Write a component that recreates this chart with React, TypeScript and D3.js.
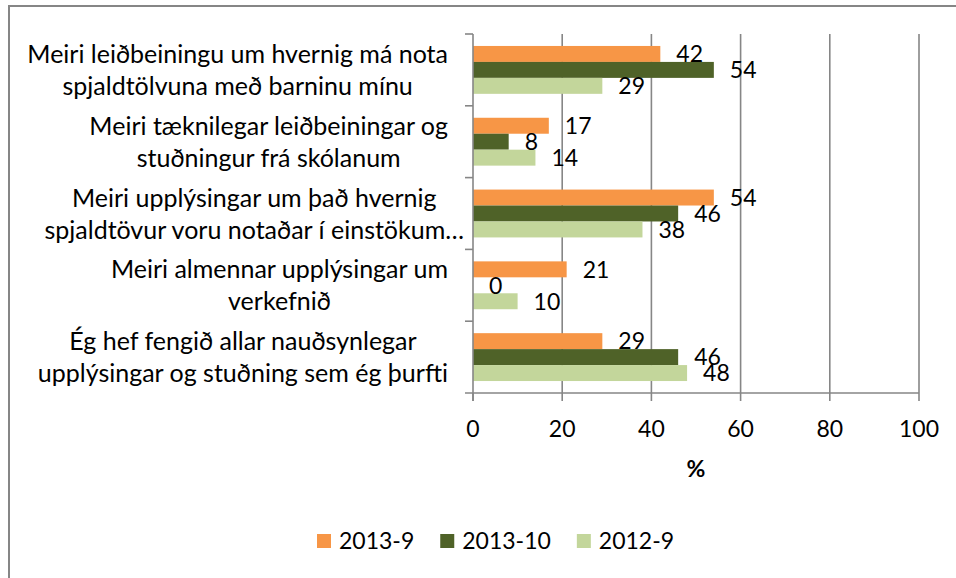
import { useEffect, useRef } from "react";
import * as d3 from "d3";

// wrapped category labels, top to bottom as shown
const categories: string[][] = [
  ["Meiri leiðbeiningu um hvernig má nota", "spjaldtölvuna með barninu mínu"],
  ["Meiri tæknilegar leiðbeiningar og", "stuðningur frá skólanum"],
  ["Meiri upplýsingar um það hvernig", "spjaldtövur voru notaðar í einstökum…"],
  ["Meiri almennar upplýsingar um", "verkefnið"],
  ["Ég hef fengið allar nauðsynlegar", "upplýsingar og stuðning sem ég þurfti"],
];
const seriesNames = ["2013-9", "2013-10", "2012-9"];
const values2013_9 = [42, 17, 54, 21, 29];
const values2013_10 = [54, 8, 46, 0, 46];
const values2012_9 = [29, 14, 38, 10, 48];
const xTicks = [0, 20, 40, 60, 80, 100];
const seriesColors = ["#F79646", "#4F6228", "#C3D69B"];

const W = 956, H = 578;
const FONT = "Lato, 'Noto Sans', sans-serif";

export default function App() {
  const svgRef = useRef<SVGSVGElement>(null);

  useEffect(() => {
    const svg = d3.select(svgRef.current);
    svg.selectAll("*").remove();

    const left = 473, right = 919, top = 34, bottom = 393;
    const grid = "#868686";
    const series = [values2013_9, values2013_10, values2012_9];
    const catKeys = categories.map((_, i) => String(i));

    const x = d3.scaleLinear().domain([0, 100]).range([left, right]);
    const y0 = d3.scaleBand().domain(catKeys).range([top, bottom]).paddingInner(1 / 3).paddingOuter(1 / 6);
    const y1 = d3.scaleBand().domain(seriesNames).range([0, y0.bandwidth()]);

    // chart frame (runs off the right and bottom edge like the screenshot)
    svg.append("rect").attr("x", 9).attr("y", 6).attr("width", W + 20).attr("height", H + 20)
      .attr("fill", "#fff").attr("stroke", grid).attr("stroke-width", 2);

    // vertical gridlines
    svg.append("g").selectAll("line").data(xTicks.slice(1)).enter().append("line")
      .attr("x1", d => x(d)).attr("x2", d => x(d)).attr("y1", top).attr("y2", bottom)
      .attr("stroke", grid).attr("stroke-width", 1.6);

    // bars
    series.forEach((vals, si) => {
      const g = svg.append("g");
      g.selectAll("rect").data(vals).enter().append("rect")
        .attr("x", x(0)).attr("y", (_, i) => y0(String(i))! + y1(seriesNames[si])!)
        .attr("width", d => x(d) - x(0)).attr("height", y1.bandwidth())
        .attr("fill", seriesColors[si]);
    });

    // axes
    const axisG = svg.append("g").attr("stroke", grid).attr("stroke-width", 1.6);
    axisG.append("line").attr("x1", left).attr("x2", left).attr("y1", top).attr("y2", bottom + 8);
    axisG.append("line").attr("x1", left - 8).attr("x2", right).attr("y1", bottom).attr("y2", bottom);
    const bounds = catKeys.map(k => y0(k)! - y0.step() * y0.paddingInner() / 2);
    bounds.forEach(b => {
      axisG.append("line").attr("x1", left - 8).attr("x2", left).attr("y1", b).attr("y2", b);
    });
    xTicks.forEach(t => {
      axisG.append("line").attr("x1", x(t)).attr("x2", x(t)).attr("y1", bottom).attr("y2", bottom + 8);
    });

    // value labels
    series.forEach((vals, si) => {
      svg.append("g").selectAll("text").data(vals).enter().append("text")
        .attr("x", d => x(d) + 16)
        .attr("y", (_, i) => y0(String(i))! + y1(seriesNames[si])! + y1.bandwidth() / 2)
        .attr("dy", "0.36em")
        .style("font-family", FONT).style("font-size", "23px").attr("fill", "#000")
        .text(d => d);
    });

    // category labels: lines centered on each other, block right-aligned
    const catG = svg.append("g").style("font-family", FONT).style("font-size", "25px");
    categories.forEach((lines, i) => {
      const cy = y0(String(i))! + y0.bandwidth() / 2;
      const texts = lines.map((ln, li) =>
        catG.append("text").attr("y", cy + (li - (lines.length - 1) / 2) * 32)
          .attr("dy", "0.36em").attr("text-anchor", "middle").attr("fill", "#000").text(ln));
      const maxW = d3.max(texts, t => (t.node() as SVGTextElement).getComputedTextLength()) || 0;
      // the truncated label runs closer to the axis in the original
      const edge = lines[lines.length - 1].endsWith("…") ? 464 : 448;
      texts.forEach(t => t.attr("x", edge - maxW / 2));
    });

    // x tick labels
    svg.append("g").selectAll("text").data(xTicks).enter().append("text")
      .attr("x", d => x(d)).attr("y", 429).attr("dy", "0.36em").attr("text-anchor", "middle")
      .style("font-family", FONT).style("font-size", "23px").attr("fill", "#000")
      .text(d => d);

    svg.append("text").attr("x", (left + right) / 2).attr("y", 469).attr("dy", "0.36em")
      .attr("text-anchor", "middle").style("font-family", FONT).style("font-size", "23px")
      .style("font-weight", "bold").text("%");

    // legend
    const legG = svg.append("g").style("font-family", FONT).style("font-size", "23px");
    let lx = 0;
    seriesNames.forEach((name, si) => {
      legG.append("rect").attr("x", lx).attr("y", 534).attr("width", 14).attr("height", 14)
        .attr("fill", seriesColors[si]);
      const t = legG.append("text").attr("x", lx + 22).attr("y", 541).attr("dy", "0.36em").text(name);
      lx += 22 + (t.node() as SVGTextElement).getComputedTextLength() + 26;
    });
    legG.attr("transform", `translate(317,0)`);
  }, []);

  return (
    <svg ref={svgRef} width={W} height={H}
      style={{ position: "absolute", left: 0, top: 0, background: "#fff" }} />
  );
}
